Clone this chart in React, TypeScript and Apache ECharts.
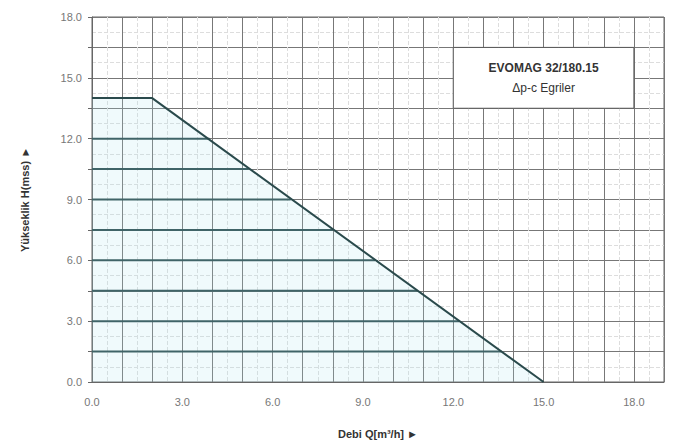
import React, { useEffect, useRef } from "react";
import * as echarts from "echarts";

const envelopeX = [0, 2, 15];
const envelopeY = [14, 14, 0];
const levels = [1.5, 3, 4.5, 6, 7.5, 9, 10.5, 12];
const levelEnds = [13.6, 12.2, 10.8, 9.4, 8.0, 6.6, 5.2, 3.9];
const boxTitle = "EVOMAG 32/180.15";
const boxSub = "Δp-c Egriler";
const xName = "Debi Q[m³/h] ►";
const yName = "Yükseklik H(mss) ►";

const LINE = "#2a4a4c";

export default function App() {
  const ref = useRef<HTMLDivElement>(null);
  useEffect(() => {
    const chart = echarts.init(ref.current!, undefined, { renderer: "svg" });
    const levelSeries = levels.map((h, i) => ({
      type: "line",
      data: [[0, h], [levelEnds[i], h]],
      symbol: "none",
      lineStyle: { color: LINE, width: 2 },
      z: 3,
    }));
    chart.setOption({
      animation: false,
      backgroundColor: "#fff",
      grid: {
        left: 92,
        right: 18,
        top: 17,
        bottom: 66,
        show: true,
        borderColor: "#666",
        borderWidth: 1,
      },
      xAxis: {
        type: "value",
        min: 0,
        max: 19,
        interval: 1,
        name: xName,
        nameLocation: "middle",
        nameGap: 46,
        nameTextStyle: { fontFamily: "Liberation Sans", fontWeight: "bold", fontSize: 11, color: "#333" },
        axisLine: { show: true, lineStyle: { color: "#666" } },
        axisTick: { show: false },
        axisLabel: {
          fontFamily: "Liberation Sans",
          fontSize: 11,
          color: "#777",
          margin: 14,
          formatter: (v: number) => (v % 3 === 0 && v <= 18 ? v.toFixed(1) : ""),
        },
        splitLine: { show: true, lineStyle: { color: "#777", width: 1 } },
        minorTick: { show: false, splitNumber: 2 },
        minorSplitLine: { show: true, lineStyle: { color: "#ddd", width: 1, type: "dashed" } },
      },
      yAxis: {
        type: "value",
        min: 0,
        max: 18,
        interval: 1.5,
        name: yName,
        nameLocation: "middle",
        nameGap: 62,
        nameTextStyle: { fontFamily: "Liberation Sans", fontWeight: "bold", fontSize: 11, color: "#333" },
        axisLine: { show: true, lineStyle: { color: "#666" } },
        axisTick: { show: true, length: 4, lineStyle: { color: "#666" } },
        axisLabel: {
          fontFamily: "Liberation Sans",
          fontSize: 11,
          color: "#777",
          margin: 10,
          formatter: (v: number) => (Math.abs(v % 3) < 1e-9 ? v.toFixed(1) : ""),
        },
        splitLine: { show: true, lineStyle: { color: "#777", width: 1 } },
        minorTick: { show: false, splitNumber: 2 },
        minorSplitLine: { show: true, lineStyle: { color: "#ddd", width: 1, type: "dashed" } },
      },
      series: [
        {
          type: "line",
          data: envelopeX.map((x, i) => [x, envelopeY[i]]),
          symbol: "none",
          lineStyle: { color: LINE, width: 2 },
          areaStyle: { color: "rgba(170, 225, 240, 0.25)" },
          z: 4,
          markArea: {
            silent: true,
            itemStyle: { color: "#fff", borderColor: "#555", borderWidth: 1 },
            label: {
              show: true,
              position: "inside",
              formatter: "{t|" + boxTitle + "}\n{s|" + boxSub + "}",
              rich: {
                t: { fontFamily: "Liberation Sans", fontWeight: "bold", fontSize: 12, color: "#333", lineHeight: 20 },
                s: { fontFamily: "Liberation Sans", fontSize: 12, color: "#333", lineHeight: 20 },
              },
            },
            data: [[{ coord: [12, 16.5] }, { coord: [18, 13.5] }]],
          },
        },
        ...levelSeries,
      ],
    });
    return () => chart.dispose();
  }, []);
  return <div ref={ref} style={{ width: 682, height: 448, margin: -8 }} />;
}
